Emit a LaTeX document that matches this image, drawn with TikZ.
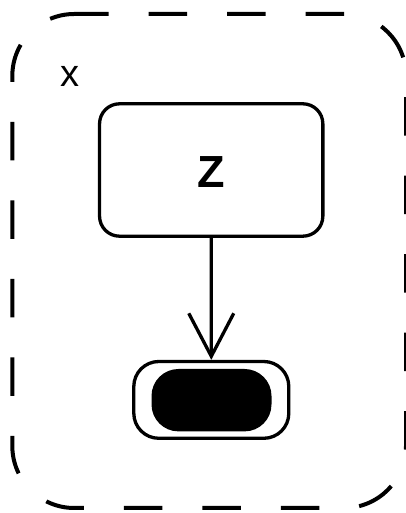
\documentclass[tikz,border=0pt]{standalone}
\usepackage{fontspec}
\setmainfont{Liberation Sans}
\usetikzlibrary{arrows.meta}
\begin{document}
\begin{tikzpicture}[x=1pt,y=1pt,
  frame/.style={line width=4pt, dash pattern=on 38.5pt off 40pt, dash phase=4.3pt, rounded corners=62pt},
  statebox/.style={draw, line width=3.3pt, rounded corners=20pt, minimum width=223.3pt, minimum height=132.4pt, inner sep=0pt, font=\fontsize{45}{45}\selectfont\bfseries, text height=35pt},
  finalouter/.style={draw, line width=3.3pt, rounded corners=25pt, minimum width=155pt, minimum height=76.8pt, inner sep=0pt},
  finalinner/.style={fill=black, rounded corners=27pt, minimum width=120pt, minimum height=62.4pt, inner sep=0pt},
  lbl/.style={inner sep=0pt, font=\fontsize{38}{38}\selectfont},
  conn/.style={line width=3.3pt, -{Straight Barb[length=43pt, width=45pt]}}
]
\useasboundingbox (0,0) rectangle (406,513);
% composite state frame
\draw[frame] (74.3,499) -- (406,499) -- (406,5) -- (12.3,5) -- (12.3,499) -- (74.3,499);
\node[lbl] (xlabel) at (70,437) {x};
% state Z
\node[statebox] (zbox) at (211.2,343) {Z};
% final state
\node[finalouter] (final) at (211.3,113.1) {};
\node[finalinner] (finaldot) at (211.5,112.8) {};
% transition
\draw[conn] (zbox.south) -- (final.north);
\end{tikzpicture}
\end{document}
